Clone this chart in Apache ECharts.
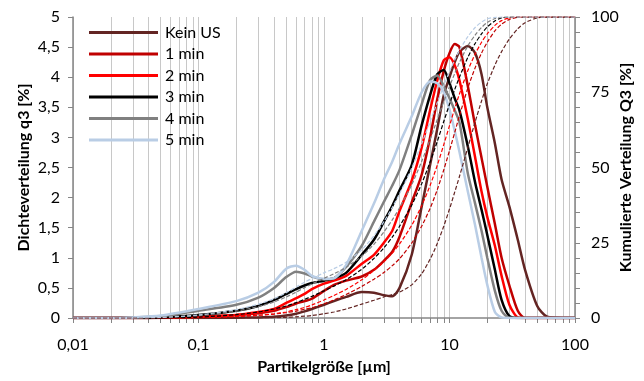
<!DOCTYPE html>
<html>
<head>
<meta charset="utf-8">
<script src="https://cdn.jsdelivr.net/npm/echarts@6/dist/echarts.min.js"></script>
<style>
html, body { margin: 0; padding: 0; background: #fff; }
#chart { width: 644px; height: 381px; }
</style>
</head>
<body>
<div id="chart"></div>
<script>
// Partikelgröße [µm]
var sizes = [0.01, 0.02, 0.03, 0.05, 0.1, 0.2, 0.3, 0.4, 0.5, 0.6, 0.7, 0.8, 1, 1.2, 1.5, 2, 2.5, 3, 3.5, 4,
  5, 6, 7, 8, 9, 10, 11, 12, 14, 16, 18, 20, 23, 26, 30, 35, 40, 50, 60, 80, 100];

var names = ["Kein US", "1 min", "2 min", "3 min", "4 min", "5 min"];
var colors = ["#632523", "#C00000", "#FF0000", "#000000", "#808080", "#B9CDE5"];

// Dichteverteilung q3 [%]
var q3KeinUS = [0, 0, 0, 0, 0, 0.005, 0.01, 0.02, 0.04, 0.07, 0.11, 0.15, 0.22, 0.28, 0.35, 0.43, 0.42, 0.38, 0.36, 0.5,
  1.05, 1.85, 2.54, 3.15, 3.7, 4.0, 4.25, 4.42, 4.52, 4.4, 4.05, 3.5, 2.9, 2.3, 1.85, 1.3, 0.8, 0.2, 0.02, 0, 0];
var q3Min1 = [0, 0, 0, 0.005, 0.02, 0.05, 0.08, 0.12, 0.18, 0.24, 0.28, 0.32, 0.45, 0.55, 0.62, 0.69, 0.8, 0.95, 1.1, 1.35,
  1.92, 2.38, 3.0, 3.64, 4.1, 4.4, 4.55, 4.5, 3.85, 3.2, 2.66, 2.18, 1.56, 1.0, 0.54, 0.12, 0, 0, 0, 0, 0];
var q3Min2 = [0, 0, 0, 0.005, 0.02, 0.05, 0.1, 0.15, 0.25, 0.33, 0.4, 0.48, 0.57, 0.62, 0.7, 0.9, 1.05, 1.25, 1.45, 1.78,
  2.28, 2.83, 3.45, 3.95, 4.28, 4.33, 4.2, 3.95, 3.3, 2.67, 2.1, 1.68, 1.2, 0.7, 0.22, 0.01, 0, 0, 0, 0, 0];
var q3Min3 = [0, 0, 0, 0.01, 0.05, 0.12, 0.2, 0.3, 0.4, 0.48, 0.54, 0.58, 0.62, 0.66, 0.75, 1.05, 1.3, 1.6, 1.86, 2.12,
  2.54, 3.2, 3.7, 4.05, 4.12, 3.9, 3.65, 3.45, 2.85, 2.25, 1.8, 1.38, 0.8, 0.3, 0.03, 0, 0, 0, 0, 0, 0];
var q3Min4 = [0, 0, 0.01, 0.03, 0.12, 0.22, 0.34, 0.5, 0.68, 0.77, 0.74, 0.69, 0.64, 0.66, 0.85, 1.2, 1.6, 1.93, 2.2, 2.46,
  3.04, 3.55, 3.95, 4.03, 3.85, 3.65, 3.45, 3.25, 2.4, 1.9, 1.45, 1.0, 0.45, 0.12, 0, 0, 0, 0, 0, 0, 0];
var q3Min5 = [0, 0, 0.01, 0.04, 0.15, 0.28, 0.42, 0.6, 0.82, 0.87, 0.8, 0.7, 0.65, 0.66, 0.88, 1.45, 1.9, 2.3, 2.6, 2.9,
  3.35, 3.75, 3.93, 3.9, 3.75, 3.46, 3.11, 2.76, 2.1, 1.54, 1.0, 0.55, 0.1, 0.01, 0, 0, 0, 0, 0, 0, 0];

// Kumulierte Verteilung Q3 [%]
var Q3KeinUS = [0, 0, 0, 0, 0, 0, 0.1, 0.1, 0.2, 0.4, 0.6, 0.8, 1.4, 2.0, 3.0, 4.6, 5.9, 7.0, 7.8, 8.6,
  11.0, 14.7, 19.5, 24.8, 30.5, 36.2, 41.8, 47.0, 56.7, 65.1, 72.1, 77.8, 84.0, 88.5, 92.7, 96.1, 98.1, 99.7, 100, 100, 100];
var Q3Min1 = [0, 0, 0, 0, 0.1, 0.5, 0.9, 1.3, 1.8, 2.3, 2.9, 3.4, 4.7, 6.0, 7.8, 10.5, 12.9, 15.1, 17.4, 19.7,
  24.9, 30.5, 36.4, 42.7, 49.2, 55.6, 61.6, 67.2, 76.4, 83.1, 88.0, 91.6, 95.4, 97.6, 99.2, 99.9, 100, 100, 100, 100, 100];
var Q3Min2 = [0, 0, 0, 0, 0.1, 0.5, 0.9, 1.4, 2.0, 2.8, 3.5, 4.3, 6.0, 7.5, 9.5, 12.7, 15.8, 18.7, 21.6, 24.6,
  30.8, 37.3, 44.0, 50.8, 57.6, 63.9, 69.6, 74.4, 82.2, 87.7, 91.6, 94.4, 97.2, 98.8, 99.7, 100, 100, 100, 100, 100, 100];
var Q3Min3 = [0, 0, 0, 0, 0.3, 1.1, 2.0, 3.0, 4.0, 5.1, 6.2, 7.2, 9.0, 10.6, 12.7, 16.2, 19.8, 23.3, 26.9, 30.5,
  37.5, 44.6, 51.8, 58.7, 65.3, 71.0, 75.9, 80.0, 86.6, 91.2, 94.4, 96.7, 98.7, 99.7, 100, 100, 100, 100, 100, 100, 100];
var Q3Min4 = [0, 0, 0, 0.2, 0.8, 2.3, 3.8, 5.3, 7.0, 8.6, 10.1, 11.3, 13.2, 14.7, 16.8, 20.6, 24.5, 28.6, 32.6, 36.6,
  44.3, 52.0, 59.3, 66.0, 71.9, 76.9, 81.2, 84.9, 90.4, 94.0, 96.5, 98.2, 99.5, 99.9, 100, 100, 100, 100, 100, 100, 100];
var Q3Min5 = [0, 0, 0, 0.2, 1.0, 2.8, 4.6, 6.4, 8.4, 10.3, 11.9, 13.1, 15.0, 16.4, 18.5, 22.7, 27.3, 32.0, 36.7, 41.3,
  49.8, 57.9, 65.2, 71.6, 77.2, 81.9, 85.7, 88.9, 93.5, 96.5, 98.3, 99.4, 99.9, 100, 100, 100, 100, 100, 100, 100, 100];

var xLabelValues = [0.01, 0.1, 1, 10, 100];

var q3All = [q3KeinUS, q3Min1, q3Min2, q3Min3, q3Min4, q3Min5];
var Q3All = [Q3KeinUS, Q3Min1, Q3Min2, Q3Min3, Q3Min4, Q3Min5];

// Hilfslinien bei 1..9 je Dekade
var xTickValues = [];
[0.01, 0.1, 1, 10].forEach(function (dec) {
  for (var k = 1; k < 10; k++) xTickValues.push(+(dec * k).toPrecision(3));
});
xTickValues.push(100);

function pairs(vals) {
  return sizes.map(function (s, i) { return [s, vals[i]]; });
}
function comma(v) {
  return String(v).replace(".", ",");
}

var font = "Lato";
var axisGray = "#868686";

var series = [];
q3All.forEach(function (vals, i) {
  series.push({
    name: names[i],
    type: "line",
    yAxisIndex: 0,
    data: pairs(vals),
    smooth: 0.25,
    symbol: "none",
    lineStyle: { color: colors[i], width: 2.5 },
    itemStyle: { color: colors[i] },
    z: 2 + i
  });
});
Q3All.forEach(function (vals, i) {
  series.push({
    name: names[i] + " Q3",
    type: "line",
    yAxisIndex: 1,
    data: pairs(vals),
    smooth: 0.25,
    symbol: "none",
    lineStyle: { color: colors[i], width: 1.2, type: [4, 2] },
    itemStyle: { color: colors[i] },
    z: 10 + i
  });
});

var chart = echarts.init(document.getElementById("chart"));
chart.setOption({
  animation: false,
  backgroundColor: "#fff",
  textStyle: { fontFamily: font },
  grid: { left: 73, right: 69, top: 17, bottom: 63, outerBoundsMode: "none", containLabel: false },
  legend: {
    data: names,
    orient: "vertical",
    left: 84,
    top: 18,
    padding: 5,
    icon: "rect",
    itemWidth: 69,
    itemHeight: 3,
    itemGap: 2.5,
    selectedMode: false,
    textStyle: { fontFamily: font, fontSize: 16, color: "#000", lineHeight: 19, padding: [0, 0, 0, 2] }
  },
  xAxis: {
    type: "log",
    logBase: 10,
    min: 0.01,
    max: 100,
    name: "Partikelgröße [µm]",
    nameLocation: "middle",
    nameGap: 41,
    nameMoveOverlap: false,
    nameTextStyle: { fontFamily: font, fontSize: 16, fontWeight: "bold", color: "#000" },
    axisLine: { lineStyle: { color: axisGray, width: 1.5 } },
    axisTick: { customValues: xTickValues, length: 5, lineStyle: { color: axisGray } },
    axisLabel: {
      customValues: xLabelValues,
      formatter: comma,
      margin: 19,
      fontFamily: font,
      fontSize: 16,
      color: "#000"
    },
    splitLine: { show: true, lineStyle: { color: "#C8C8C8", width: 1 } }
  },
  yAxis: [
    {
      type: "value",
      min: 0,
      max: 5,
      interval: 0.5,
      name: "Dichteverteilung q3 [%]",
      nameLocation: "middle",
      nameRotate: 90,
      nameGap: 41,
      nameMoveOverlap: false,
      nameTextStyle: { fontFamily: font, fontSize: 16, fontWeight: "bold", color: "#000" },
      axisLine: { show: true, lineStyle: { color: axisGray, width: 1.5 } },
      axisTick: { show: true, length: 5, lineStyle: { color: axisGray } },
      axisLabel: { formatter: comma, margin: 13, fontFamily: font, fontSize: 16, color: "#000" },
      splitLine: { show: false }
    },
    {
      type: "value",
      min: 0,
      max: 100,
      interval: 25,
      position: "right",
      name: "Kumulierte Verteilung Q3 [%]",
      nameLocation: "middle",
      nameRotate: 90,
      nameGap: 43,
      nameMoveOverlap: false,
      nameTextStyle: { fontFamily: font, fontSize: 16, fontWeight: "bold", color: "#000" },
      axisLine: { show: true, lineStyle: { color: axisGray, width: 1.5 } },
      axisTick: { show: true, length: 5, lineStyle: { color: axisGray } },
      minorTick: { show: true, splitNumber: 5, length: 5, lineStyle: { color: axisGray } },
      axisLabel: { margin: 16, fontFamily: font, fontSize: 16, color: "#000" },
      splitLine: { show: false }
    }
  ],
  series: series
});
</script>
</body>
</html>
